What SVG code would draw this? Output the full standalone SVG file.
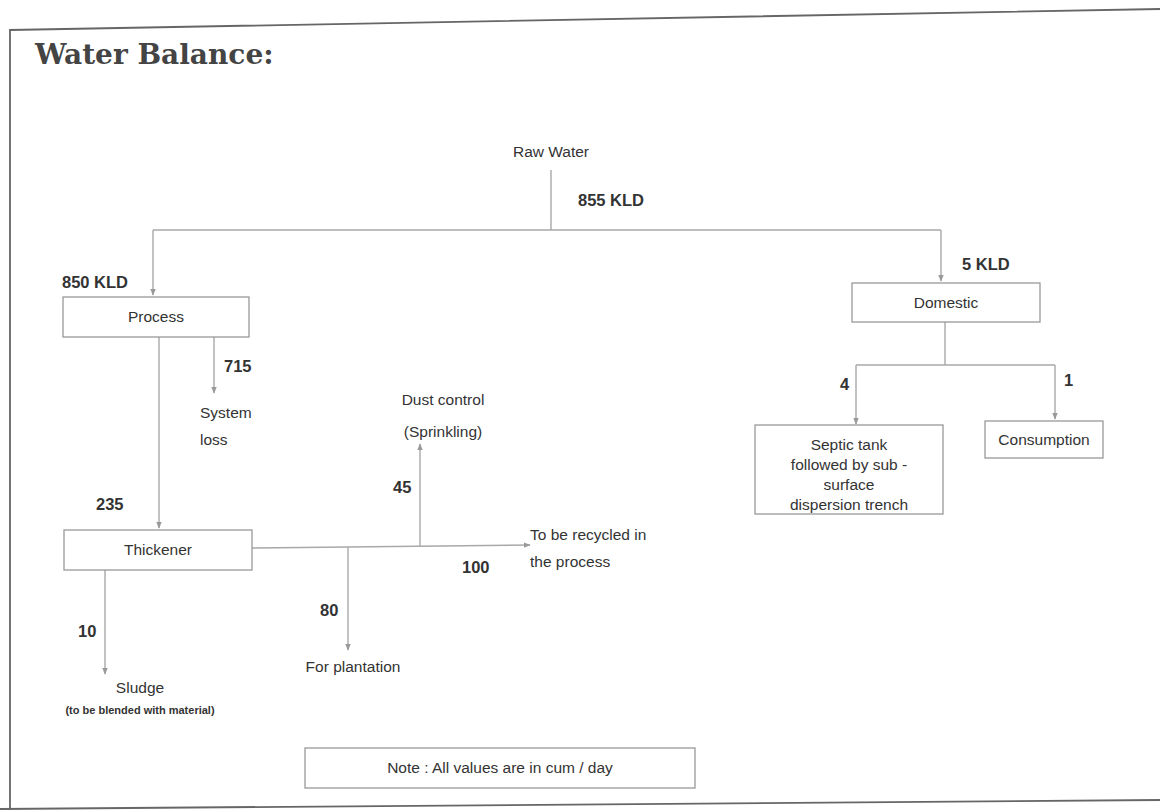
<svg xmlns="http://www.w3.org/2000/svg" width="1160" height="810" viewBox="0 0 1160 810">
  <style>
    .frame { fill: none; stroke: #666; stroke-width: 1.8; }
    .box { fill: #fff; stroke: #999; stroke-width: 1.3; }
    .flow { fill: none; stroke: #a8a8a8; stroke-width: 1.4; }
    .t { font-family: "Liberation Sans", Arial, sans-serif; font-size: 15.5px; fill: #333; }
    .lbl { font-family: "Liberation Sans", Arial, sans-serif; font-size: 16.5px; font-weight: bold; fill: #333; }
    .mid { text-anchor: middle; }
    .title { font-family: "DejaVu Serif", "Liberation Serif", serif; font-size: 28px; font-weight: bold; fill: #444; }
  </style>
  <defs>
    <marker id="arr" viewBox="0 0 10 10" refX="9" refY="5" markerWidth="7" markerHeight="7" orient="auto" markerUnits="userSpaceOnUse">
      <path d="M0,1 L10,5 L0,9 z" fill="#999"/>
    </marker>
  </defs>

  <rect width="1160" height="810" fill="#fff"/>

  <!-- page frame -->
  <g id="frame">
    <polyline class="frame" points="10,810 10,30 1160,9"/>
    <line class="frame" x1="0" y1="809" x2="1160" y2="800"/>
  </g>

  <text class="title" x="35" y="64">Water Balance:</text>

  <!-- connectors -->
  <g id="connectors">
    <line class="flow" x1="551" y1="170" x2="551" y2="230"/>
    <line class="flow" x1="153" y1="230" x2="941" y2="230"/>
    <line class="flow" x1="153" y1="230" x2="153" y2="295" marker-end="url(#arr)"/>
    <line class="flow" x1="941" y1="230" x2="941" y2="281" marker-end="url(#arr)"/>

    <line class="flow" x1="945" y1="322" x2="945" y2="365"/>
    <line class="flow" x1="856" y1="365" x2="1055" y2="365"/>
    <line class="flow" x1="856" y1="365" x2="856" y2="424" marker-end="url(#arr)"/>
    <line class="flow" x1="1055" y1="365" x2="1055" y2="419" marker-end="url(#arr)"/>

    <line class="flow" x1="214" y1="337" x2="214" y2="393" marker-end="url(#arr)"/>
    <line class="flow" x1="159" y1="337" x2="159" y2="528" marker-end="url(#arr)"/>

    <line class="flow" x1="252" y1="548" x2="530" y2="545" marker-end="url(#arr)"/>
    <line class="flow" x1="420" y1="546" x2="420" y2="444" marker-end="url(#arr)"/>
    <line class="flow" x1="348" y1="547" x2="348" y2="650" marker-end="url(#arr)"/>
    <line class="flow" x1="105" y1="570" x2="105" y2="674" marker-end="url(#arr)"/>
  </g>

  <!-- flow labels -->
  <g id="labels">
    <text class="t mid" x="551" y="157">Raw Water</text>
    <text class="lbl" x="578" y="206">855 KLD</text>
    <text class="lbl" x="62" y="288">850 KLD</text>
    <text class="lbl" x="962" y="270">5 KLD</text>
    <text class="lbl" x="224" y="372">715</text>
    <text class="t" x="200" y="418">System</text>
    <text class="t" x="200" y="445">loss</text>
    <text class="lbl" x="96" y="510">235</text>
    <text class="lbl" x="78" y="637">10</text>
    <text class="t mid" x="140" y="693">Sludge</text>
    <text class="t mid" x="140" y="714" style="font-size:11px;font-weight:bold">(to be blended with material)</text>
    <text class="lbl" x="320" y="616">80</text>
    <text class="t mid" x="353" y="672">For plantation</text>
    <text class="lbl" x="393" y="493">45</text>
    <text class="t mid" x="443" y="405">Dust control</text>
    <text class="t mid" x="443" y="437">(Sprinkling)</text>
    <text class="lbl" x="462" y="573">100</text>
    <text class="t" x="530" y="540">To be recycled in</text>
    <text class="t" x="530" y="567">the process</text>
    <text class="lbl" x="840" y="390">4</text>
    <text class="lbl" x="1064" y="386">1</text>
  </g>

  <g id="process">
    <rect class="box" x="63" y="297" width="186" height="40"/>
    <text class="t mid" x="156" y="322">Process</text>
  </g>
  <g id="domestic">
    <rect class="box" x="852" y="283" width="188" height="39"/>
    <text class="t mid" x="946" y="308">Domestic</text>
  </g>
  <g id="thickener">
    <rect class="box" x="64" y="530" width="188" height="40"/>
    <text class="t mid" x="158" y="555">Thickener</text>
  </g>
  <g id="septic">
    <rect class="box" x="755" y="425" width="188" height="89"/>
    <text class="t mid" x="849" y="450">Septic tank</text>
    <text class="t mid" x="849" y="470">followed by sub -</text>
    <text class="t mid" x="849" y="490">surface</text>
    <text class="t mid" x="849" y="510">dispersion trench</text>
  </g>
  <g id="consumption">
    <rect class="box" x="985" y="421" width="118" height="37"/>
    <text class="t mid" x="1044" y="445">Consumption</text>
  </g>
  <g id="note">
    <rect class="box" x="305" y="748" width="390" height="40"/>
    <text class="t mid" x="500" y="773">Note : All values are in cum / day</text>
  </g>
</svg>
